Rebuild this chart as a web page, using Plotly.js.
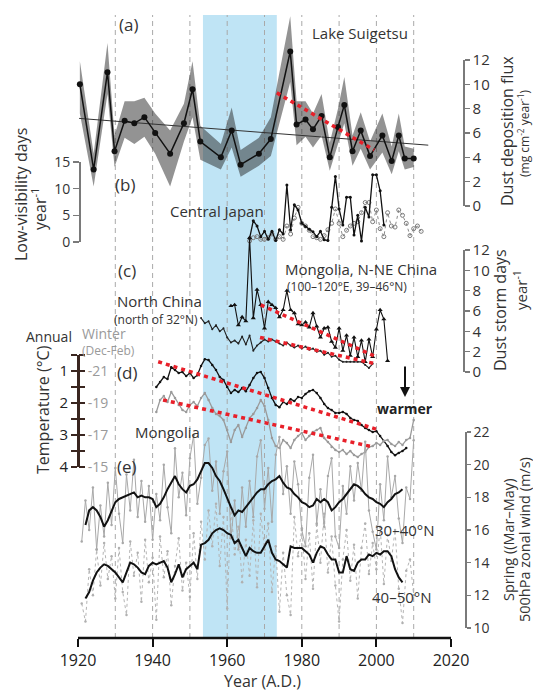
<!DOCTYPE html>
<html><head><meta charset="utf-8">
<script src="https://cdn.plot.ly/plotly-3.0.1.min.js"></script>
<style>html,body{margin:0;padding:0;background:#fff}#chart{width:533px;height:691px}</style>
</head><body><div id="chart"></div>
<script>
// ---------------- DATA ----------------
const yearList = [1920,1921,1922,1923,1924,1925,1926,1927,1928,1929,1930,1931,1932,1933,1934,1935,1936,1937,1938,1939,1940,1941,1942,1943,1944,1945,1946,1947,1948,1949,1950,1951,1952,1953,1954,1955,1956,1957,1958,1959,1960,1961,1962,1963,1964,1965,1966,1967,1968,1969,1970,1971,1972,1973,1974,1975,1976,1977,1978,1979,1980,1981,1982,1983,1984,1985,1986,1987,1988,1989,1990,1991,1992,1993,1994,1995,1996,1997,1998,1999,2000,2001,2002,2003,2004,2005,2006,2007,2008,2009,2010,2011,2012];
function yrs(a, b) { return yearList.filter(y => y >= a && y <= b); }

// (a) Lake Suigetsu dust deposition flux
const yearsA = [1920.5,1924.2,1927.9,1929.8,1932.5,1935.1,1937.8,1940.7,1944.7,1948.4,1950.7,1952.8,1958.3,1961.2,1963.6,1968.5,1971.7,1976.9,1978.6,1981.0,1983.0,1985.3,1987.5,1989.7,1991.4,1993.6,1995.8,1998.3,2001.6,2004.1,2006.0,2007.6,2010.0];
const fluxA = [10.0,3.0,11.0,4.5,7.0,6.8,7.3,6.0,4.3,6.8,9.6,5.3,4.0,6.2,3.4,4.3,5.5,12.7,6.7,7.1,6.3,7.4,4.0,6.5,8.3,4.5,6.2,4.1,5.8,3.7,5.8,3.9,3.9];
const fluxHi = [11.9,4.3,13.4,5.8,8.6,8.6,8.9,7.6,6.2,8.4,11.9,6.6,5.1,8.1,4.6,5.6,7.3,15.6,8.6,8.6,7.6,9.2,5.2,8.0,10.6,5.8,7.7,5.3,7.6,4.9,7.6,4.9,4.7];
const fluxLo = [7.6,1.6,9.2,3.2,5.6,5.1,5.7,4.3,1.6,5.3,7.3,3.8,3.0,4.8,2.4,3.3,4.1,10.2,5.0,5.7,4.8,5.8,2.9,5.0,6.8,3.3,4.7,3.0,4.4,2.6,4.5,3.0,3.2];
const trendAYears = [1920.3, 2013.9];
const trendAVals = [7.2, 5.0];
const redAYears = [1973.3, 1999.4];
const redAVals = [9.3, 4.6];

// (b) Central Japan low-visibility days
const yearsBk = yrs(1966, 2002);
const lowVisBlack = [0.7,4.0,3.0,1.0,2.0,0.5,2.0,0.3,2.3,1.5,10.7,2.3,7.0,6.0,3.5,2.9,2.4,1.9,1.0,2.0,0.4,0.3,6.5,12.3,6.2,3.2,8.4,8.4,1.3,5.0,0.2,6.5,4.7,12.6,12.6,9.6,3.2];
const yearsBg = yrs(1966, 2012);
const lowVisGray = [0.2,0.8,1.0,0.5,0.5,0.8,1.5,0.5,1.0,0.5,3.0,1.5,4.5,6.5,3.5,3.0,2.2,1.0,0.8,0.5,1.2,2.3,3.5,6.2,3.5,1.0,2.2,3.0,3.5,3.8,5.5,7.4,7.4,3.8,6.0,2.5,1.0,5.5,3.0,2.8,6.0,5.0,3.5,1.2,2.5,3.0,2.0];

// (c) Dust storm days
const yearsMon = yrs(1961, 2003);
const stormMongolia = [6.5,6.6,4.6,5.4,5.0,13.2,5.3,8.1,6.6,4.3,6.9,6.6,6.3,5.4,6.1,8.0,6.1,5.8,4.7,4.6,4.9,4.4,5.8,4.5,3.4,4.3,4.4,3.0,2.4,4.3,2.1,3.6,1.6,3.4,1.5,3.1,1.0,3.2,1.5,4.2,6.1,5.2,1.1];
const yearsNC = yrs(1953, 1999);
const stormNorthChina = [5.3,4.8,5.0,4.2,4.6,4.0,4.3,3.4,2.9,3.1,2.8,3.5,2.7,3.6,2.1,2.6,2.9,3.2,3.0,3.2,3.0,2.8,2.6,2.9,2.6,2.4,2.6,2.3,2.5,2.2,2.3,2.0,2.1,1.7,1.9,1.5,1.6,1.2,1.0,1.0,1.0,1.0,1.0,1.0,0.7,0.4,0.8];
const redCUpYears = [1969.0, 1999.3], redCUpVals = [6.6, 1.6];
const redCLoYears = [1968.8, 1999.8], redCLoVals = [3.4, 0.8];

// (d) Mongolia temperature
const yearsAnn = yrs(1941, 2008);
const tempAnnual = [1.50,1.34,1.19,1.25,0.88,0.97,1.06,1.03,1.16,1.06,1.22,1.13,0.84,0.63,0.66,0.81,0.97,1.19,1.28,1.50,1.69,1.59,1.66,1.53,1.63,1.44,1.22,1.06,1.03,1.22,1.53,1.84,2.06,2.13,1.97,2.03,1.88,1.94,1.81,1.84,1.72,1.63,1.59,1.69,1.84,2.03,2.16,2.22,2.31,2.31,2.28,2.34,2.47,2.53,2.56,2.69,2.78,2.84,2.91,2.88,3.03,3.19,3.34,3.53,3.63,3.56,3.50,3.41];
const yearsWin = yrs(1941, 2010);
const tempWinter = [-18.44,-19.19,-19.44,-19.06,-19.69,-19.31,-18.88,-18.56,-18.44,-18.88,-19.06,-18.81,-19.31,-19.63,-19.19,-18.69,-18.31,-18.19,-17.94,-17.31,-16.56,-17.31,-17.63,-16.88,-17.44,-18.06,-18.31,-18.69,-19.19,-18.81,-17.94,-16.81,-16.31,-16.19,-16.69,-16.5,-16.19,-16.69,-16.94,-17.13,-16.69,-16.94,-17.19,-17.31,-17.44,-16.81,-16.56,-16.25,-16.06,-15.94,-16.06,-15.81,-16.0,-15.75,-15.63,-15.81,-15.94,-16.25,-16.31,-16.5,-16.38,-16.63,-16.69,-16.44,-16.31,-16.56,-16.38,-16.69,-16.81,-17.94];
const redDUpYears = [1941.5, 2000.6], redDUpVals = [0.71, 2.84];
const redDLoYears = [1942.8, 1998.8], redDLoVals = [-19.19, -16.27];

// (e) Spring 500hPa zonal wind
const yearsRaw = yrs(1921, 2010);
const wind3040Raw = [15.3,17.8,16.0,18.6,14.8,17.5,15.6,18.9,16.3,19.8,17.0,15.2,19.4,17.2,20.3,16.8,19.0,16.5,18.7,15.4,18.2,16.6,20.0,17.4,15.8,21.0,18.0,19.5,16.9,20.4,21.8,17.6,19.2,21.2,21.6,18.4,20.2,17.0,19.6,20.8,15.5,17.8,14.8,18.6,16.2,19.0,16.8,20.5,21.5,17.3,19.8,16.5,20.6,21.7,18.2,19.9,17.0,20.2,18.8,16.0,15.0,19.2,20.6,16.4,18.5,16.2,19.3,20.4,15.6,14.9,18.7,17.0,19.9,17.8,20.1,18.4,21.4,17.2,15.9,14.8,18.8,16.6,20.5,18.0,19.3,16.7,15.2,18.6,17.9,21.5];
const wind4050Raw = [11.5,10.4,13.6,12.0,14.8,12.6,15.2,13.0,14.4,11.8,14.9,12.2,10.8,15.3,13.2,14.6,11.6,15.4,12.8,14.3,10.5,15.6,13.1,14.7,11.4,13.8,15.5,12.3,14.0,11.9,15.8,13.0,16.5,14.2,17.2,15.0,17.6,13.8,16.8,11.2,17.4,14.5,16.2,12.8,15.4,13.2,16.6,12.5,17.0,14.8,16.4,12.2,15.0,11.0,14.6,12.0,10.8,16.8,14.4,16.1,13.0,15.8,12.4,16.3,14.0,17.0,13.4,15.6,12.6,10.4,14.2,16.0,12.9,15.1,11.8,14.9,16.4,13.3,15.2,13.6,16.2,12.7,15.7,14.1,16.0,12.4,10.3,13.5,14.2,12.0];
const yearsSm = yrs(1922, 2007);
const wind3040Smooth = [16.3,17.2,17.4,17.2,16.8,16.2,16.6,17.1,17.7,17.9,18.0,18.1,18.2,18.3,18.0,18.1,18.0,18.0,17.9,17.4,17.6,18.0,18.5,18.9,19.3,18.8,18.5,18.3,18.7,18.8,19.1,19.6,20.1,20.1,19.8,19.3,19.0,18.5,17.9,17.4,16.9,17.2,17.1,17.4,17.7,18.0,18.3,18.5,18.5,18.8,19.0,19.1,19.3,18.9,18.6,18.5,18.2,18.0,17.7,17.6,17.4,17.5,17.9,17.7,17.9,17.7,17.2,17.4,17.7,17.9,18.2,18.5,18.8,18.7,18.5,18.2,18.0,17.9,17.7,17.6,17.4,17.7,17.9,18.2,18.3,18.5];
const wind4050Smooth = [11.8,12.2,12.9,13.4,13.7,13.9,13.8,13.6,13.4,13.1,12.8,13.4,14.0,13.9,13.7,13.4,13.3,13.8,14.0,13.9,14.0,14.1,13.7,12.8,13.3,13.9,13.1,13.6,13.8,14.0,13.6,15.1,15.2,15.4,15.8,16.0,16.1,16.0,15.8,15.7,15.2,15.4,14.9,14.4,14.9,14.7,14.6,14.6,15.0,15.4,14.6,14.2,14.1,13.9,13.7,15.0,14.9,14.9,14.9,14.7,14.5,14.0,14.6,15.0,14.9,14.5,14.2,14.2,13.4,13.4,14.4,13.6,13.5,14.0,14.2,14.2,14.5,14.4,14.6,14.5,14.7,14.7,14.4,13.6,13.1,12.8];

// shading / grid / ticks
const shadeYears = [1953.5, 1973.3];
const gridYears = [1930,1940,1950,1960,1970,1980,1990,2000,2010];
const xTickVals = [1920,1940,1960,1980,2000,2020];

// ---------------- LAYOUT GEOMETRY ----------------
const W = 533, H = 691;
const PLOT = {l: 40, r: 493, t: 15, b: 638};
const XCAL = {v0: 1920, p0: 78, v1: 2020, p1: 451};
const CAL = {
  a:  {v0: 0,   y0: 206, v1: 12,  y1: 60},
  b:  {v0: 0,   y0: 242, v1: 15,  y1: 162},
  c:  {v0: 0,   y0: 372, v1: 12,  y1: 250},
  d:  {v0: 1,   y0: 371, v1: 4,   y1: 467},
  dw: {v0: -21, y0: 371, v1: -15, y1: 467},
  e:  {v0: 10,  y0: 628, v1: 22,  y1: 432}
};
function paperX(px) { return (px - PLOT.l) / (PLOT.r - PLOT.l); }
function paperY(py) { return (PLOT.b - py) / (PLOT.b - PLOT.t); }
function valAt(cal, py) { return cal.v0 + (py - cal.y0) * (cal.v1 - cal.v0) / (cal.y1 - cal.y0); }
function pyOf(cal, v) { return cal.y0 + (v - cal.v0) * (cal.y1 - cal.y0) / (cal.v1 - cal.v0); }
function fullRange(cal) { return [valAt(cal, PLOT.b), valAt(cal, PLOT.t)]; }
function visAxis(cal, lo, hi) {
  const pa = paperY(pyOf(cal, lo)), pb = paperY(pyOf(cal, hi));
  return pa < pb ? {domain: [pa, pb], range: [lo, hi]} : {domain: [pb, pa], range: [hi, lo]};
}
const kx = (XCAL.v1 - XCAL.v0) / (XCAL.p1 - XCAL.p0);
const xRange = [XCAL.v0 + (PLOT.l - XCAL.p0) * kx, XCAL.v0 + (PLOT.r - XCAL.p0) * kx];

const FONT = 'Open Sans, Lato, sans-serif';
const TXT = '#333';
const RED = '#e8202a';
const GRAYL = '#a8a8a8';

// ---------------- TRACES ----------------
const traces = [];
// (a)
traces.push({x: yearsA, y: fluxLo, yaxis: 'y', mode: 'lines', line: {width: 0, color: 'rgba(0,0,0,0)'}, hoverinfo: 'skip', showlegend: false});
traces.push({x: yearsA, y: fluxHi, yaxis: 'y', mode: 'lines', fill: 'tonexty', fillcolor: 'rgba(40,40,40,0.5)', line: {width: 0, color: 'rgba(0,0,0,0)'}, hoverinfo: 'skip', showlegend: false});
traces.push({x: trendAYears, y: trendAVals, yaxis: 'y', mode: 'lines', line: {width: 1, color: '#333'}, showlegend: false});
traces.push({x: yearsA, y: fluxA, yaxis: 'y', mode: 'lines+markers', line: {width: 1.5, color: '#111'}, marker: {size: 6, color: '#111'}, showlegend: false});
traces.push({x: redAYears, y: redAVals, yaxis: 'y', mode: 'lines', line: {width: 3.5, color: RED, dash: '4px,4px'}, showlegend: false});
// (b)
traces.push({x: yearsBg, y: lowVisGray, yaxis: 'y2', mode: 'lines+markers', line: {width: 1, color: '#8a8a8a', dash: 'dot'}, marker: {size: 4, symbol: 'circle-open', color: '#7a7a7a', line: {width: 1}}, showlegend: false});
traces.push({x: yearsBk, y: lowVisBlack, yaxis: 'y2', mode: 'lines+markers', line: {width: 1.3, color: '#111'}, marker: {size: 3, color: '#111'}, showlegend: false});
// (c)
traces.push({x: yearsNC, y: stormNorthChina, yaxis: 'y3', mode: 'lines+markers', line: {width: 1.1, color: '#222'}, marker: {size: 2, color: '#222'}, showlegend: false});
traces.push({x: yearsMon, y: stormMongolia, yaxis: 'y3', mode: 'lines+markers', line: {width: 1.1, color: '#111'}, marker: {size: 4.5, symbol: 'triangle-up', color: '#111'}, showlegend: false});
traces.push({x: redCUpYears, y: redCUpVals, yaxis: 'y3', mode: 'lines', line: {width: 3.5, color: RED, dash: '4px,4px'}, showlegend: false});
traces.push({x: redCLoYears, y: redCLoVals, yaxis: 'y3', mode: 'lines', line: {width: 3.5, color: RED, dash: '4px,4px'}, showlegend: false});
// (d)
traces.push({x: yearsWin, y: tempWinter, yaxis: 'y5', mode: 'lines+markers', line: {width: 1.3, color: '#9a9a9a'}, marker: {size: 2.5, color: '#9a9a9a'}, showlegend: false});
traces.push({x: yearsAnn, y: tempAnnual, yaxis: 'y4', mode: 'lines+markers', line: {width: 1.3, color: '#111'}, marker: {size: 2.5, color: '#111'}, showlegend: false});
traces.push({x: redDUpYears, y: redDUpVals, yaxis: 'y4', mode: 'lines', line: {width: 3.5, color: RED, dash: '4px,4px'}, showlegend: false});
traces.push({x: redDLoYears, y: redDLoVals, yaxis: 'y5', mode: 'lines', line: {width: 3.5, color: RED, dash: '4px,4px'}, showlegend: false});
// (e)
traces.push({x: yearsRaw, y: wind4050Raw, yaxis: 'y6', mode: 'lines+markers', line: {width: 1, color: '#b4b4b4', dash: 'dot'}, marker: {size: 2.5, color: '#b0b0b0'}, showlegend: false});
traces.push({x: yearsRaw, y: wind3040Raw, yaxis: 'y6', mode: 'lines+markers', line: {width: 1, color: GRAYL}, marker: {size: 2.5, color: GRAYL}, showlegend: false});
traces.push({x: yearsSm, y: wind3040Smooth, yaxis: 'y6', mode: 'lines', line: {width: 2, color: '#111'}, showlegend: false});
traces.push({x: yearsSm, y: wind4050Smooth, yaxis: 'y6', mode: 'lines', line: {width: 2, color: '#111'}, showlegend: false});
// dummy traces for visible tick axes
['y7','y8','y9','y10','y11','y12'].forEach(a => traces.push({x: [null], y: [null], yaxis: a, mode: 'lines', showlegend: false, hoverinfo: 'skip'}));

// ---------------- AXES ----------------
function hidden(cal, extra) { return Object.assign({range: fullRange(cal), visible: false, fixedrange: true, showgrid: false, zeroline: false}, extra || {}); }
function tickAxis(cal, lo, hi, o) {
  const v = visAxis(cal, lo, hi);
  return Object.assign({domain: v.domain, range: v.range, anchor: 'free', showgrid: false, zeroline: false, showline: true,
    ticks: 'outside', fixedrange: true, tickfont: {family: FONT, size: 15, color: TXT}}, o);
}
const layout = {
  width: W, height: H,
  margin: {l: PLOT.l, r: W - PLOT.r, t: PLOT.t, b: H - PLOT.b, pad: 0},
  paper_bgcolor: '#fff', plot_bgcolor: 'rgba(0,0,0,0)',
  showlegend: false,
  font: {family: FONT, color: TXT},
  xaxis: {range: xRange, showgrid: false, zeroline: false, showline: false, tickvals: xTickVals,
    ticks: 'outside', ticklen: 8, tickwidth: 2.2, tickcolor: '#111', fixedrange: true,
    tickfont: {family: FONT, size: 16, color: '#222'}},
  yaxis: hidden(CAL.a, {domain: [0, 1]}),
  yaxis2: hidden(CAL.b, {overlaying: 'y'}),
  yaxis3: hidden(CAL.c, {overlaying: 'y'}),
  yaxis4: hidden(CAL.d, {overlaying: 'y'}),
  yaxis5: hidden(CAL.dw, {overlaying: 'y'}),
  yaxis6: hidden(CAL.e, {overlaying: 'y'}),
  yaxis7: tickAxis(CAL.a, 0, 12, {side: 'right', position: paperX(463), tickvals: [0,2,4,6,8,10,12],
    linecolor: '#7a7a7a', linewidth: 1.6, tickcolor: '#7a7a7a', tickwidth: 1.6, ticklen: 5}),
  yaxis8: tickAxis(CAL.b, 0, 15, {side: 'left', position: paperX(79), tickvals: [0,5,10,15],
    linecolor: '#7a7a7a', linewidth: 1.6, tickcolor: '#7a7a7a', tickwidth: 1.6, ticklen: 6,
    tickfont: {family: FONT, size: 14, color: TXT}}),
  yaxis9: tickAxis(CAL.c, 0, 12, {side: 'right', position: paperX(463), tickvals: [0,2,4,6,8,10,12],
    linecolor: '#7a7a7a', linewidth: 1.6, tickcolor: '#7a7a7a', tickwidth: 1.6, ticklen: 5}),
  yaxis10: tickAxis(CAL.d, 0.5, 4, {side: 'left', position: paperX(78), tickvals: [1,2,3,4],
    linecolor: '#3a2620', linewidth: 3, tickcolor: '#3a2620', tickwidth: 2.5, ticklen: 6,
    minor: {tickvals: [0.5,1.5,2.5,3.5], ticks: 'outside', ticklen: 6, tickwidth: 2.5, tickcolor: '#3a2620'},
    tickfont: {family: FONT, size: 15, color: '#222'}}),
  yaxis11: tickAxis(CAL.dw, -22, -15, {side: 'right', position: paperX(78), tickvals: [-21,-19,-17,-15],
    ticktext: ['-21','-19','-17','-15'], showline: false, tickcolor: '#3a2620', tickwidth: 2.5, ticklen: 6,
    minor: {tickvals: [-22,-20,-18,-16], ticks: 'outside', ticklen: 6, tickwidth: 2.5, tickcolor: '#3a2620'},
    tickfont: {family: FONT, size: 14, color: '#9a9a9a'}}),
  yaxis12: tickAxis(CAL.e, 10, 22, {side: 'right', position: paperX(465), tickvals: [10,12,14,16,18,20,22],
    linecolor: '#7a7a7a', linewidth: 1.6, tickcolor: '#7a7a7a', tickwidth: 1.6, ticklen: 4,
    tickfont: {family: FONT, size: 14, color: TXT}}),
  shapes: [],
  annotations: []
};

// shapes: shading band, dashed grid, bottom axis line
layout.shapes.push({type: 'rect', xref: 'x', yref: 'paper', x0: shadeYears[0], x1: shadeYears[1], y0: 0, y1: 1,
  fillcolor: '#bfe4f5', line: {width: 0}, layer: 'below'});
gridYears.forEach(g => layout.shapes.push({type: 'line', xref: 'x', yref: 'paper', x0: g, x1: g, y0: 0, y1: 1,
  line: {color: '#a9a9a9', width: 1, dash: '5px,4px'}, layer: 'below'}));
layout.shapes.push({type: 'line', xref: 'x', yref: 'paper', x0: xTickVals[0], x1: xTickVals[xTickVals.length - 1], y0: 0, y1: 0,
  line: {color: '#111', width: 2.6}});

// annotations
function A(text, px, py, o) {
  layout.annotations.push(Object.assign({text: text, xref: 'paper', yref: 'paper', x: paperX(px), y: paperY(py),
    xanchor: 'center', yanchor: 'middle', showarrow: false, font: {family: FONT, size: 15, color: TXT}}, o || {}));
}
const big = {family: FONT, size: 17, color: TXT};
A('(a)', 128, 24, {font: big});
A('Lake Suigetsu', 360, 33);
A('(b)', 125, 185, {font: big});
A('Central Japan', 217, 211);
A('(c)', 127, 270, {font: big});
A('Mongolia, N-NE China', 361, 269);
A('(100–120°E, 39–46°N)', 347, 286, {font: {family: FONT, size: 12, color: TXT}});
A('North China', 159, 301);
A('(north of 32°N)', 156, 319, {font: {family: FONT, size: 12, color: TXT}});
A('(d)', 127, 372, {font: big});
A('<b>warmer</b>', 405, 408, {font: {family: FONT, size: 14, color: '#222'}});
A('Mongolia', 167, 432);
A('(e)', 127, 467, {font: big});
A('30–40°N', 405, 530);
A('40–50°N', 402, 597);
A('Year (A.D.)', 262, 681, {font: {family: FONT, size: 16, color: TXT}});
A('Annual', 49, 336, {font: {family: FONT, size: 14, color: TXT}});
A('Winter', 104, 333, {font: {family: FONT, size: 14, color: '#9a9a9a'}});
A('(Dec-Feb)', 108, 350, {font: {family: FONT, size: 12, color: '#9a9a9a'}});
// rotated titles
A('Low-visibility days', 21, 195, {textangle: -90, font: {family: FONT, size: 16, color: TXT}});
A('year<sup>-1</sup>', 39, 209, {textangle: -90, font: {family: FONT, size: 16, color: TXT}});
A('Temperature (°C)', 43, 410, {textangle: -90, font: {family: FONT, size: 16, color: TXT}});
A('Dust deposition flux', 507, 131, {textangle: -90, font: {family: FONT, size: 16, color: TXT}});
A('(mg cm<sup>-2</sup> year<sup>-1</sup>)', 524, 133, {textangle: -90, font: {family: FONT, size: 12, color: TXT}});
A('Dust storm days', 500, 310, {textangle: -90, font: {family: FONT, size: 16, color: TXT}});
A('year<sup>-1</sup>', 520, 290, {textangle: -90, font: {family: FONT, size: 15, color: TXT}});
A('Spring ((Mar–May)', 508, 540, {textangle: -90, font: {family: FONT, size: 14.5, color: TXT}});
A('500hPa zonal wind (m/s)', 524, 540, {textangle: -90, font: {family: FONT, size: 14.5, color: TXT}});
// "warmer" arrow
layout.annotations.push({xref: 'paper', yref: 'paper', x: paperX(405), y: paperY(397), ax: 0, ay: -32,
  text: '', showarrow: true, arrowhead: 2, arrowsize: 1, arrowwidth: 2, arrowcolor: '#111'});

Plotly.newPlot('chart', traces, layout, {staticPlot: true, displayModeBar: false});
</script></body></html>
